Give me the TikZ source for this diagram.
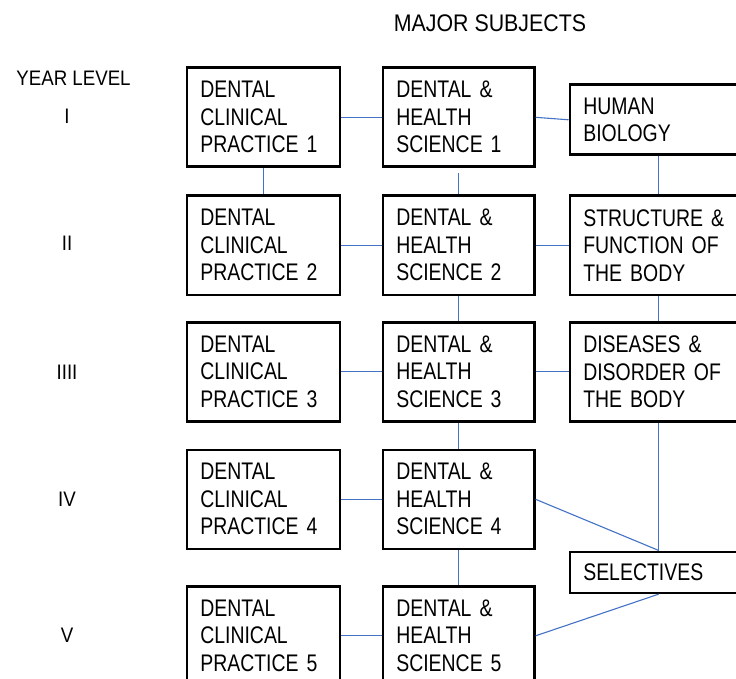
\documentclass[tikz,border=0pt]{standalone}
\usepackage{fontspec}
\setmainfont{Liberation Sans}
\newfontfamily\boxfont{Liberation Sans}[FakeStretch=0.81]
\newfontfamily\labelfont{Liberation Sans}[FakeStretch=0.89]
\definecolor{linkblue}{RGB}{68,114,196}
\begin{document}
\begin{tikzpicture}[x=1pt,y=-1pt,
  subject/.style={draw=black, line width=2.6pt, fill=white, anchor=north west,
    align=left, inner xsep=13.5pt, inner ysep=0pt, minimum height=99pt,
    font=\boxfont\fontsize{24}{27.5}\selectfont},
  colA/.style={subject, minimum width=153pt, text width=126pt},
  colB/.style={subject, minimum width=151.5pt, text width=124.5pt},
  colC/.style={subject, minimum width=178pt, text width=151pt},
  link/.style={draw=linkblue, line width=1.1pt},
  yearlabel/.style={anchor=base, inner sep=0pt, font=\labelfont\fontsize{21}{25}\selectfont},
  heading/.style={anchor=base, inner sep=0pt, font=\labelfont\fontsize{24}{28}\selectfont}
]
% page area
\fill[white] (0,0) rectangle (736,679);
\useasboundingbox (0,0) rectangle (736,679);

% headings
\node[heading] (major) at (490,32) {MAJOR SUBJECTS};
\node[yearlabel] (yl) at (73.5,86) {YEAR LEVEL};
\node[yearlabel] (y1) at (67,124) {I};
\node[yearlabel] (y2) at (67,251) {II};
\node[yearlabel] (y3) at (67,379) {IIII};
\node[yearlabel] (y4) at (67,506) {IV};
\node[yearlabel] (y5) at (67,642) {V};

% clinical practice column
\node[colA] (dcp1) at (185.5,66.5)  {DENTAL\\CLINICAL\\PRACTICE 1};
\node[colA] (dcp2) at (185.5,194.5) {DENTAL\\CLINICAL\\PRACTICE 2};
\node[colA] (dcp3) at (185.5,321)   {DENTAL\\CLINICAL\\PRACTICE 3};
\node[colA] (dcp4) at (185.5,448.5) {DENTAL\\CLINICAL\\PRACTICE 4};
\node[colA] (dcp5) at (185.5,585)   {DENTAL\\CLINICAL\\PRACTICE 5};

% dental and health science column
\node[colB] (dhs1) at (381.5,66.5)  {DENTAL \&\\HEALTH\\SCIENCE 1};
\node[colB] (dhs2) at (381.5,194.5) {DENTAL \&\\HEALTH\\SCIENCE 2};
\node[colB] (dhs3) at (381.5,321)   {DENTAL \&\\HEALTH\\SCIENCE 3};
\node[colB] (dhs4) at (381.5,448.5) {DENTAL \&\\HEALTH\\SCIENCE 4};
\node[colB] (dhs5) at (381.5,585)   {DENTAL \&\\HEALTH\\SCIENCE 5};

% body sciences column
\node[colC, minimum height=70pt] (hb)  at (568.5,83.5)  {HUMAN\\BIOLOGY};
\node[colC] (sfb) at (568.5,194.5) {STRUCTURE \&\\FUNCTION OF\\THE BODY};
\node[colC] (ddb) at (568.5,321)   {DISEASES \&\\DISORDER OF\\THE BODY};
\node[colC, minimum height=41pt] (sel) at (568.5,550.5) {SELECTIVES};

% horizontal links
\draw[link] (dcp1.east) -- (dhs1.west);
\draw[link] (dcp2.east) -- (dhs2.west);
\draw[link] (dcp3.east) -- (dhs3.west);
\draw[link] (dcp4.east) -- (dhs4.west);
\draw[link] (dcp5.east) -- (dhs5.west);
\draw[link] (dhs1.east) -- (hb.west);
\draw[link] (dhs2.east) -- (sfb.west);
\draw[link] (dhs3.east) -- (ddb.west);
\draw[link] (dhs4.east) -- (sel.north);
\draw[link] (dhs5.east) -- (sel.south);

% vertical links
\draw[link] (dcp1.south) -- (dcp2.north);
\draw[link, shorten <=5pt] (dhs1.south) -- (dhs2.north);
\draw[link] (dhs2.south) -- (dhs3.north);
\draw[link] (dhs3.south) -- (dhs4.north);
\draw[link] (dhs4.south) -- (dhs5.north);
\draw[link] (hb.south) -- (sfb.north);
\draw[link] (sfb.south) -- (ddb.north);
\draw[link] (ddb.south) -- (sel.north);
\end{tikzpicture}
\end{document}
